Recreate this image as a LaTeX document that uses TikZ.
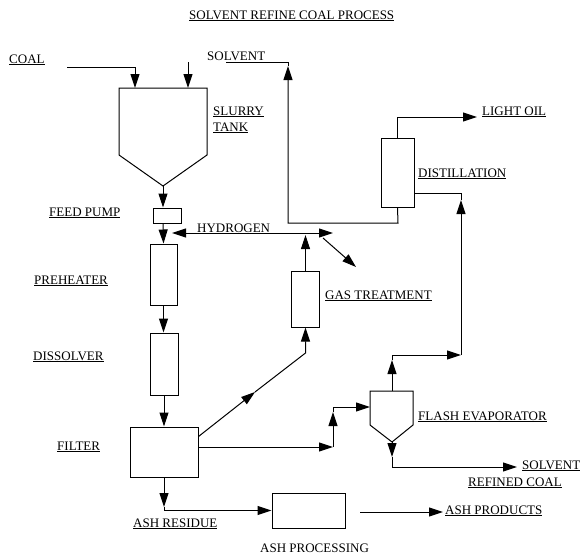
\documentclass[tikz,border=0pt]{standalone}
\usepackage{fontspec}
\setmainfont{Liberation Serif}
\usetikzlibrary{arrows.meta}

\begin{document}
\begin{tikzpicture}[
    x=1pt, y=-1pt,
    unit/.style={draw, rectangle, inner sep=0pt, line width=1pt},
    flow/.style={line width=1pt, -{Triangle[length=14pt, width=9pt]}},
    pipe/.style={line width=1pt},
    lbl/.style={anchor=base west, inner sep=0pt, font=\fontsize{13}{15}\selectfont} % Stream and unit labels
]
    \useasboundingbox (0,0) rectangle (580,554);

    % Title
    \node[lbl] (title) at (189,19) {\underline{SOLVENT REFINE COAL PROCESS}};

    % Slurry tank (drawn as an outline)
    \coordinate (tanktl) at (119,88);
    \coordinate (tanktr) at (207,88);
    \coordinate (tankbot) at (163,186);
    \draw[pipe] (tanktl) -- (tanktr) -- (207,155) -- (tankbot) -- (119,155) -- cycle;
    \coordinate (tanka) at (135,88);
    \coordinate (tankb) at (188,88);

    % Units on the main line
    \node[unit, minimum width=28pt, minimum height=15pt] (pump) at (167,215.5) {};
    \node[unit, minimum width=27pt, minimum height=61pt] (preh) at (163.5,274.5) {};
    \node[unit, minimum width=28pt, minimum height=62pt] (diss) at (164,364) {};
    \node[unit, minimum width=68pt, minimum height=50pt] (filter) at (164,452) {};

    % Side units
    \node[unit, minimum width=33pt, minimum height=69pt] (dist) at (397.5,172.5) {};
    \node[unit, minimum width=28pt, minimum height=56pt] (gas) at (305.5,299) {};
    \node[unit, minimum width=73pt, minimum height=35pt] (ash) at (308.5,510.5) {};

    % Flash evaporator (drawn as an outline)
    \coordinate (flashtop) at (392,391);
    \coordinate (flashin) at (370,407);
    \coordinate (flashbot) at (392,442);
    \draw[pipe] (370,391) -- (413,391) -- (413,425) -- (flashbot) -- (370,425) -- cycle;

    % Labels
    \node[lbl] (coal) at (9,63) {\underline{COAL}};
    \node[lbl] (solvtop) at (207,60) {SOLVENT};
    \node[lbl] (slurry) at (213,115) {\underline{SLURRY}};
    \node[lbl] (tank) at (213,131) {\underline{TANK}};
    \node[lbl] (lightoil) at (482,115) {\underline{LIGHT OIL}};
    \node[lbl] (distl) at (418,177) {\underline{DISTILLATION}};
    \node[lbl] (hydro) at (197,232) {HYDROGEN};
    \node[lbl] (pumpl) at (49,216) {\underline{FEED PUMP}};
    \node[lbl] (prehl) at (34,284) {\underline{PREHEATER}};
    \node[lbl] (dissl) at (33,360) {\underline{DISSOLVER}};
    \node[lbl] (filterl) at (57,450) {\underline{FILTER}};
    \node[lbl] (gasl) at (325,299) {\underline{GAS TREATMENT}};
    \node[lbl] (flashl) at (418,420) {\underline{FLASH EVAPORATOR}};
    \node[lbl] (solvbot) at (522,469) {\underline{SOLVENT}};
    \node[lbl] (refined) at (468,486) {\underline{REFINED COAL}};
    \node[lbl] (ashprodl) at (445,514) {\underline{ASH PRODUCTS}};
    \node[lbl] (ashres) at (133,527) {\underline{ASH RESIDUE}};
    \node[lbl] (ashl) at (260,552) {ASH PROCESSING};

    % Feeds into the slurry tank
    \coordinate (coalin) at (67,67);
    \coordinate (solvin) at (188,62);
    \draw[flow] (coalin) -| (tanka);
    \draw[flow] (solvin) -- (tankb);

    % Main line down to the filter
    \draw[flow] (tankbot) -- (tankbot |- pump.north);
    \draw[flow] (tankbot |- pump.south) -- (preh.north);
    \draw[flow] (preh.south) -- (preh.south |- diss.north);
    \draw[flow] (diss.south) -- (diss.south |- filter.north);

    % Hydrogen line and vent
    \coordinate (h2l) at (172,233);
    \coordinate (h2r) at (333,233);
    \draw[flow, {Triangle[length=14pt, width=9pt]}-{Triangle[length=14pt, width=9pt]}] (h2l) -- (h2r);
    \coordinate (ventin) at (323,238);
    \coordinate (ventout) at (356,267);
    \draw[flow] (ventin) -- (ventout);
    \draw[flow] (gas.north) -- (305.5,235);

    % Filter gas to gas treatment
    \coordinate (fgmid) at (255,392);
    \coordinate (fgbend) at (305.5,353);
    \draw[flow] ([yshift=-10pt]filter.north east) -- (fgmid);
    \draw[flow] (fgmid) -- (fgbend) -- (gas.south);

    % Filter liquid to flash evaporator
    \coordinate (ff1) at (333,447);
    \coordinate (ff2) at (333,412);
    \draw[flow] ([yshift=5pt]filter.east) -- (ff1);
    \draw[flow] (ff1) -- (ff2);
    \draw[flow] (ff2) |- (flashin);

    % Flash overhead to distillation
    \coordinate (fo1) at (392,360);
    \coordinate (fo2) at (461,355);
    \coordinate (fo3) at (461,200);
    \draw[flow] (flashtop) -- (fo1);
    \draw[flow] (fo1) |- (fo2);
    \draw[flow] (fo2) -- (fo3);
    \draw[pipe] (fo3) |- ([yshift=-20.5pt]dist.east);

    % Distillation products
    \coordinate (lotip) at (477,117);
    \draw[flow] (dist.north) |- (lotip);
    \coordinate (srtip) at (288,66);
    \coordinate (srend) at (226,62);
    \draw[flow] (dist.south) -- (398,223) -| (srtip);
    \draw[pipe] (srtip) |- (srend);

    % Flash bottoms
    \coordinate (fb1) at (392,457);
    \coordinate (fbtip) at (517,467);
    \draw[flow] (flashbot) -- (fb1);
    \draw[flow] (fb1) |- (fbtip);

    % Ash residue and ash products
    \coordinate (ar1) at (164,507);
    \draw[flow] (filter.south) -- (ar1);
    \draw[flow] (ar1) |- (ash.west);
    \coordinate (apout) at (360,512);
    \coordinate (aptip) at (443,512);
    \draw[flow] (apout) -- (aptip);

\end{tikzpicture}
\end{document}
